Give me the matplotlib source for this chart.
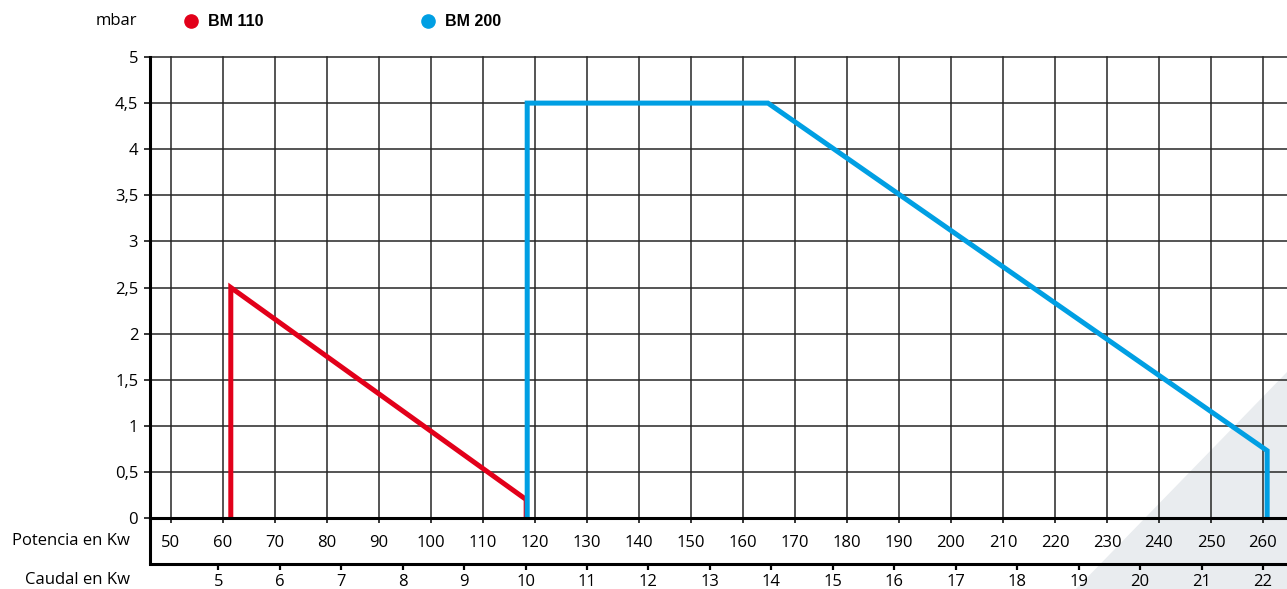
import matplotlib
matplotlib.use("Agg")
import matplotlib.pyplot as plt
from matplotlib.lines import Line2D
from matplotlib.patches import Polygon

# data
potencia_ticks = list(range(50, 261, 10))
caudal_ticks = list(range(5, 23))
mbar_ticks = [0, 0.5, 1, 1.5, 2, 2.5, 3, 3.5, 4, 4.5, 5]
mbar_labels = ["0", "0,5", "1", "1,5", "2", "2,5", "3", "3,5", "4", "4,5", "5"]

bm110_kw = [61.5, 61.5, 118.3, 118.3]
bm110_mbar = [0, 2.5, 0.2, 0]
bm200_kw = [118.5, 118.5, 164.8, 260.8, 260.8]
bm200_mbar = [0, 4.5, 4.5, 0.73, 0]

caudal_per_kw = 22 / 260

RED = "#e2001a"
BLUE = "#009fe3"
GRID = "#262626"

plt.rcParams["font.family"] = ["Open Sans", "DejaVu Sans"]

W, H = 1287, 589
fig = plt.figure(figsize=(W / 100, H / 100), dpi=100)
fig.patch.set_facecolor("white")

# decorative grey corner
fig.add_artist(Polygon([(1076 / W, 0), (1, (H - 372) / H), (1, 0)],
                       closed=True, transform=fig.transFigure,
                       facecolor="#e9ecef", edgecolor="none", zorder=-1))

ax_left, ax_right = 150 / W, 1.0
ax_bottom, ax_top = (H - 518) / H, (H - 57) / H
ax = fig.add_axes([ax_left, ax_bottom, ax_right - ax_left, ax_top - ax_bottom])
ax.set_facecolor("none")

ax.plot(bm110_kw, bm110_mbar, color=RED, lw=3.6, solid_joinstyle="miter",
        solid_capstyle="butt", zorder=3, clip_on=False)
ax.plot(bm200_kw, bm200_mbar, color=BLUE, lw=3.6, solid_joinstyle="miter",
        solid_capstyle="butt", zorder=3, clip_on=False)

x_lo = 50 - 21 / 5.2
x_hi = 50 + (W - 171) / 5.2
ax.set_xlim(x_lo, x_hi)
ax.set_ylim(0, 5)

ax.set_xticks(potencia_ticks)
ax.set_xticklabels([str(v) for v in potencia_ticks])
ax.set_yticks(mbar_ticks)
ax.set_yticklabels(mbar_labels)

ax.grid(True, color=GRID, lw=1.1)
for gl in ax.get_xgridlines() + ax.get_ygridlines():
    gl.set_clip_on(False)
ax.set_axisbelow(True)

for side in ["top", "right"]:
    ax.spines[side].set_visible(False)
for side in ["left", "bottom"]:
    ax.spines[side].set_linewidth(2.2)
    ax.spines[side].set_color("black")
    ax.spines[side].set_zorder(4)

ax.tick_params(axis="y", direction="out", length=4.5, width=1.1, pad=4,
               labelsize=12, colors="black")
ax.tick_params(axis="x", direction="out", length=3.6, width=1.1, pad=8.5,
               labelsize=12, colors="black")

# second scale (Caudal)
loc = -(564 - 518) / (518 - 57)
sec = ax.secondary_xaxis(loc, functions=(lambda x: x * caudal_per_kw,
                                         lambda c: c / caudal_per_kw))
sec.set_xticks(caudal_ticks)
sec.set_xticklabels([str(v) for v in caudal_ticks])
sec.spines["bottom"].set_linewidth(2.2)
sec.tick_params(direction="out", length=4, width=1.6, pad=3, labelsize=12)

# left spine continues down to the Caudal line
ax.plot([0, 0], [0, loc], transform=ax.transAxes, color="black", lw=2.2,
        clip_on=False, solid_capstyle="butt")

fig.text(130 / W, 1 - 541 / H, "Potencia en Kw", ha="right", va="center", fontsize=12)
fig.text(130 / W, 1 - 580 / H, "Caudal en Kw", ha="right", va="center", fontsize=12)

# legend row
fig.text(137 / W, 1 - 21 / H, "mbar", ha="right", va="center", fontsize=12)
for x_dot, label, col in [(191, "BM 110", RED), (428, "BM 200", BLUE)]:
    fig.add_artist(Line2D([x_dot / W], [1 - 21 / H], marker="o", markersize=9.5,
                          color=col, markeredgecolor=col, transform=fig.transFigure))
    fig.text((x_dot + 17) / W, 1 - 21.5 / H, label, ha="left", va="center",
             fontsize=11.5, fontweight="bold", family=["Liberation Sans", "DejaVu Sans"])

fig.savefig("out.png", dpi=100)
